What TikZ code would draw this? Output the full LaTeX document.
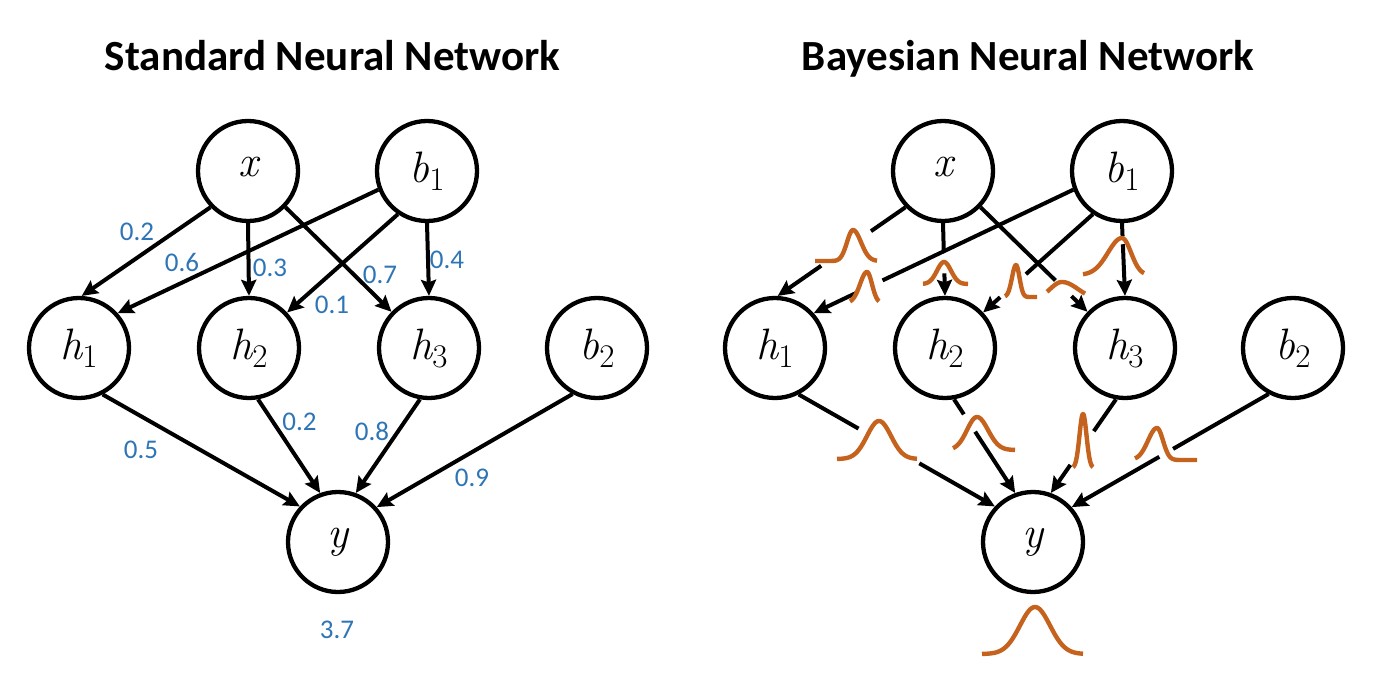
\documentclass[tikz,border=0pt]{standalone}
\usepackage{fontspec}
\setmainfont{Carlito}
\newfontfamily\lmr{Latin Modern Roman}
\usetikzlibrary{arrows.meta,calc}
\definecolor{lblblue}{RGB}{46,117,182}
\definecolor{gorange}{RGB}{196,98,30}
\newcommand\nv[2]{{\itshape #1}\raisebox{-8pt}{\fontsize{33}{33}\selectfont #2}}
% xa xp xb base height sigmaL sigmaR
\newcommand\gaussc[7]{%
  \draw[gauss] plot[domain=#1:#3,samples=70,smooth]
    (\x,{#4-#5*exp(-min((((\x-#2)/((\x<#2)?#6:#7))^2)/2,12))});}
\begin{document}
\begin{tikzpicture}[x=1pt,y=-1pt,
  neuron/.style={circle,draw,line width=4.3pt,minimum size=100pt,inner sep=0pt,
    font=\lmr\fontsize{44}{44}\selectfont},
  edge/.style={line width=4pt},
  arr/.style={line width=4pt,-{Stealth[length=16pt,width=15pt,inset=2.5pt]}},
  wlabel/.style={text=lblblue,font=\fontsize{27}{29}\selectfont,inner sep=0pt},
  title/.style={font=\fontsize{43}{50}\selectfont\bfseries,anchor=base,inner sep=0pt},
  gauss/.style={draw=gorange,line width=4.4pt,line join=round}]
\useasboundingbox (0,0) rectangle (1386,680);
\node[title] (t1) at (332.5,70) {Standard Neural Network};
\node[title] (t2) at (1028,70) {Bayesian Neural Network};
% ---------- standard network ----------
\node[neuron] (x)  at (248,171) {\nv{x}{}};
\node[neuron] (b1) at (427,171) {\nv{b}{1}};
\node[neuron] (h1) at (79,348)  {\nv{h}{1}};
\node[neuron] (h2) at (249,348) {\nv{h}{2}};
\node[neuron] (h3) at (429,348) {\nv{h}{3}};
\node[neuron] (b2) at (597,348) {\nv{b}{2}};
\node[neuron] (y)  at (338,542) {\nv{y}{}};
\draw[arr] (x.224) -- (h1.87);
\draw[arr] (b1.201) -- (h1.42);
\draw[arr] (x.270) -- (h2.90);
\draw[arr] (x.316) -- (h3.136);
\draw[arr] (b1.236) -- (h2.43);
\draw[arr] (b1.270) -- (h3.90);
\draw[arr] (h1.297) -- (y.137);
\draw[arr] (h2.280) -- (y.110);
\draw[arr] (h3.260) -- (y.70);
\draw[arr] (b2.242) -- (y.42);
\node[wlabel] (l1) at (137,232) {0.2};
\node[wlabel] (l2) at (182,262) {0.6};
\node[wlabel] (l3) at (270,268) {0.3};
\node[wlabel] (l4) at (380,275) {0.7};
\node[wlabel] (l5) at (332,305) {0.1};
\node[wlabel] (l6) at (447,260) {0.4};
\node[wlabel] (l7) at (141,450) {0.5};
\node[wlabel] (l8) at (299.5,422) {0.2};
\node[wlabel] (l9) at (372,431) {0.8};
\node[wlabel] (l10) at (472,478) {0.9};
\node[wlabel] (l11) at (337,630) {3.7};
% ---------- bayesian network ----------
\node[neuron] (rx)  at (943,171)  {\nv{x}{}};
\node[neuron] (rb1) at (1122,171) {\nv{b}{1}};
\node[neuron] (rh1) at (775,348)  {\nv{h}{1}};
\node[neuron] (rh2) at (945,348)  {\nv{h}{2}};
\node[neuron] (rh3) at (1125,348) {\nv{h}{3}};
\node[neuron] (rb2) at (1293,348) {\nv{b}{2}};
\node[neuron] (ry)  at (1033,542) {\nv{y}{}};
\draw[edge] (rx.224) -- ($(rx.224)!0.27!(rh1.87)$);
\draw[arr] ($(rx.224)!0.66!(rh1.87)$) -- (rh1.87);
\draw[edge] (rb1.201) -- ($(rb1.201)!0.735!(rh1.42)$);
\draw[arr] ($(rb1.201)!0.835!(rh1.42)$) -- (rh1.42);
\draw[edge] (rx.270) -- ($(rx.270)!0.39!(rh2.90)$);
\draw[arr] ($(rx.270)!0.69!(rh2.90)$) -- (rh2.90);
\draw[edge] (rx.316) -- ($(rx.316)!0.70!(rh3.136)$);
\draw[arr] ($(rx.316)!0.85!(rh3.136)$) -- (rh3.136);
\draw[edge] (rb1.236) -- ($(rb1.236)!0.61!(rh2.43)$);
\draw[arr] ($(rb1.236)!0.845!(rh2.43)$) -- (rh2.43);
\draw[edge] (rb1.270) -- ($(rb1.270)!0.18!(rh3.90)$);
\draw[arr] ($(rb1.270)!0.29!(rh3.90)$) -- (rh3.90);
\draw[edge] (rh1.297) -- ($(rh1.297)!0.305!(ry.137)$);
\draw[arr] ($(rh1.297)!0.615!(ry.137)$) -- (ry.137);
\draw[edge] (rh2.280) -- ($(rh2.280)!0.16!(ry.110)$);
\draw[arr] ($(rh2.280)!0.345!(ry.110)$) -- (ry.110);
\draw[edge] (rh3.260) -- ($(rh3.260)!0.34!(ry.70)$);
\draw[arr] ($(rh3.260)!0.70!(ry.70)$) -- (ry.70);
\draw[edge] (rb2.242) -- ($(rb2.242)!0.485!(ry.42)$);
\draw[arr] ($(rb2.242)!0.555!(ry.42)$) -- (ry.42);
% weight distributions
\gaussc{815}{853}{877}{261}{31}{6}{8}
\gaussc{850}{867}{879}{303}{31}{7}{5}
\gaussc{923}{944}{968}{284}{22}{7}{7}
\gaussc{1005}{1016}{1037}{297}{32}{4}{3.5}
\gaussc{1047}{1062}{1085}{300}{18}{12}{16}
\gaussc{1083}{1122}{1144}{275}{37}{14}{9}
\gaussc{837}{879}{917}{459}{38}{12}{12}
\gaussc{953}{977}{1015}{450}{33}{10}{11}
\gaussc{1073}{1083}{1093}{468}{54}{3.5}{3.5}
\gaussc{1135}{1157}{1197}{460}{32}{9}{6}
\gaussc{982}{1035}{1083}{654}{47}{15}{15}
\end{tikzpicture}
\end{document}
